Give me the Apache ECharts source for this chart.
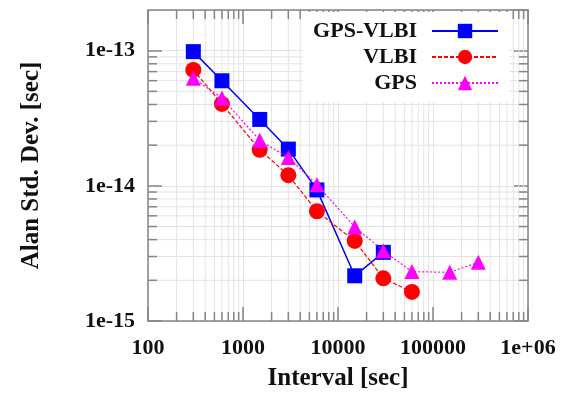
<!DOCTYPE html>
<html>
<head>
<meta charset="utf-8">
<script src="https://cdn.jsdelivr.net/npm/echarts@6/dist/echarts.min.js"></script>
<style>
html,body{margin:0;padding:0;background:#fff;}
#chart{width:567px;height:396px;}
</style>
</head>
<body>
<div id="chart"></div>
<script>
// ---- data ----
var intervals = [300, 600, 1500, 3000, 6000, 15000, 30000, 60000, 150000, 300000];
var gpsVlbi = [9.84e-14, 5.99e-14, 3.10e-14, 1.87e-14, 9.33e-15, 2.16e-15, 3.22e-15];
var vlbi = [7.21e-14, 4.04e-14, 1.85e-14, 1.20e-14, 6.49e-15, 3.91e-15, 2.07e-15, 1.64e-15];
var gps = [6.26e-14, 4.47e-14, 2.17e-14, 1.62e-14, 1.02e-14, 4.97e-15, 3.31e-15, 2.32e-15, 2.29e-15, 2.72e-15];
var seriesNames = ['GPS-VLBI', 'VLBI', 'GPS'];
var xTickLabels = ['100', '1000', '10000', '100000', '1e+06'];
var yTickLabels = ['1e-15', '1e-14', '1e-13'];
var xMin = 100, xMax = 1e6, yMin = 1e-15, yMax = 2e-13;
// minor tick positions (2..9 within each decade)
var minorMult = [2, 3, 4, 5, 6, 7, 8, 9];
var xDecades = [100, 1000, 10000, 100000];
var yDecades = [1e-15, 1e-14, 1e-13];

function pairs(vals) { return vals.map(function (v, i) { return [intervals[i], v]; }); }
var minorX = [], minorY = [];
xDecades.forEach(function (d) { minorMult.forEach(function (m) { minorX.push([d * m, yMin]); }); });
yDecades.forEach(function (d) { minorMult.forEach(function (m) { var v = d * m; if (v < yMax * 0.999) minorY.push([xMin, v]); }); });

var FONT = '"Liberation Serif", "Times New Roman", serif';
var AXC = '#858585';
var GRIDC = '#e3e3e3';

function isPow(v) { var l = Math.log10(v); return Math.abs(l - Math.round(l)) < 1e-6; }

function xAx(pos, show) {
  return {
    type: 'log', logBase: 10, min: xMin, max: xMax, position: pos,
    axisLine: { show: true, lineStyle: { color: AXC, width: 1.5 } },
    axisTick: { show: true, inside: true, length: 14, lineStyle: { color: AXC, width: 1.5 } },
    splitLine: { show: show, lineStyle: { color: GRIDC, width: 1 } },
    axisLabel: {
      show: show, margin: 16, fontFamily: FONT, fontWeight: 'bold', fontSize: 22, color: '#111',
      formatter: function (v) { if (!isPow(v)) return ''; return xTickLabels[Math.round(Math.log10(v)) - 2] || ''; }
    },
    name: show ? 'Interval [sec]' : '', nameLocation: 'middle', nameGap: 45,
    nameTextStyle: { fontFamily: FONT, fontWeight: 'bold', fontSize: 25, color: '#111' }
  };
}
function yAx(pos, show) {
  return {
    type: 'log', logBase: 10, min: yMin, max: yMax, position: pos,
    axisLine: { show: true, lineStyle: { color: AXC, width: 1.5 } },
    axisTick: { show: true, inside: true, length: 14, lineStyle: { color: AXC, width: 1.5 } },
    splitLine: { show: show, lineStyle: { color: GRIDC, width: 1 } },
    axisLabel: {
      show: show, margin: 13, fontFamily: FONT, fontWeight: 'bold', fontSize: 22, color: '#111',
      showMaxLabel: false,
      formatter: function (v) { if (!isPow(v)) return ''; return yTickLabels[Math.round(Math.log10(v)) + 15] || ''; }
    },
    name: show ? 'Alan Std. Dev. [sec]' : '', nameLocation: 'middle', nameGap: 104,
    nameTextStyle: { fontFamily: FONT, fontWeight: 'bold', fontSize: 25, color: '#111' }
  };
}

function minorXRender(params, api) {
  var cs = params.coordSys;
  var p = api.coord([api.value(0), yMin]);
  var x = p[0];
  var top = cs.y, bot = cs.y + cs.height;
  var ts = { stroke: AXC, lineWidth: 1.5 };
  return { type: 'group', children: [
    { type: 'line', shape: { x1: x, y1: top, x2: x, y2: bot }, style: { stroke: GRIDC, lineWidth: 1 } },
    { type: 'line', shape: { x1: x, y1: bot, x2: x, y2: bot - 9 }, style: ts },
    { type: 'line', shape: { x1: x, y1: top, x2: x, y2: top + 9 }, style: ts }
  ] };
}
function minorYRender(params, api) {
  var cs = params.coordSys;
  var p = api.coord([xMin, api.value(1)]);
  var y = p[1];
  var l = cs.x, r = cs.x + cs.width;
  var ts = { stroke: AXC, lineWidth: 1.5 };
  return { type: 'group', children: [
    { type: 'line', shape: { x1: l, y1: y, x2: r, y2: y }, style: { stroke: GRIDC, lineWidth: 1 } },
    { type: 'line', shape: { x1: l, y1: y, x2: l + 9, y2: y }, style: ts },
    { type: 'line', shape: { x1: r, y1: y, x2: r - 9, y2: y }, style: ts }
  ] };
}

var chart = echarts.init(document.getElementById('chart'), null, { renderer: 'canvas' });
chart.setOption({
  animation: false,
  backgroundColor: '#fff',
  grid: { left: 148, right: 39, top: 10, bottom: 71, containLabel: false },
  xAxis: [xAx('bottom', true), xAx('top', false)],
  yAxis: [yAx('left', true), yAx('right', false)],
  legend: {
    data: seriesNames, orient: 'vertical', align: 'right',
    right: 58, top: 12, padding: [8, 10, 8, 10], itemGap: 4,
    itemWidth: 66, itemHeight: 18, backgroundColor: '#fff',
    textStyle: { fontFamily: FONT, fontWeight: 'bold', fontSize: 22, color: '#111', padding: [0, 10, 0, 0] }
  },
  series: [
    { type: 'custom', silent: true, z: 1, xAxisIndex: 0, yAxisIndex: 0, data: minorX, renderItem: minorXRender },
    { type: 'custom', silent: true, z: 1, xAxisIndex: 0, yAxisIndex: 0, data: minorY, renderItem: minorYRender },
    {
      name: seriesNames[0], type: 'line', data: pairs(gpsVlbi), z: 3,
      symbol: 'rect', symbolSize: 15,
      itemStyle: { color: '#0000ff' }, lineStyle: { color: '#0000ff', width: 1.5 }
    },
    {
      name: seriesNames[1], type: 'line', data: pairs(vlbi), z: 4,
      symbol: 'circle', symbolSize: 16,
      itemStyle: { color: '#ff0000' }, lineStyle: { color: '#ff0000', width: 1.2, type: [4, 2] }
    },
    {
      name: seriesNames[2], type: 'line', data: pairs(gps), z: 5,
      symbol: 'triangle', symbolSize: 15,
      itemStyle: { color: '#ff00ff' }, lineStyle: { color: '#ff00ff', width: 1.2, type: [2, 2] }
    }
  ]
});
</script>
</body>
</html>
